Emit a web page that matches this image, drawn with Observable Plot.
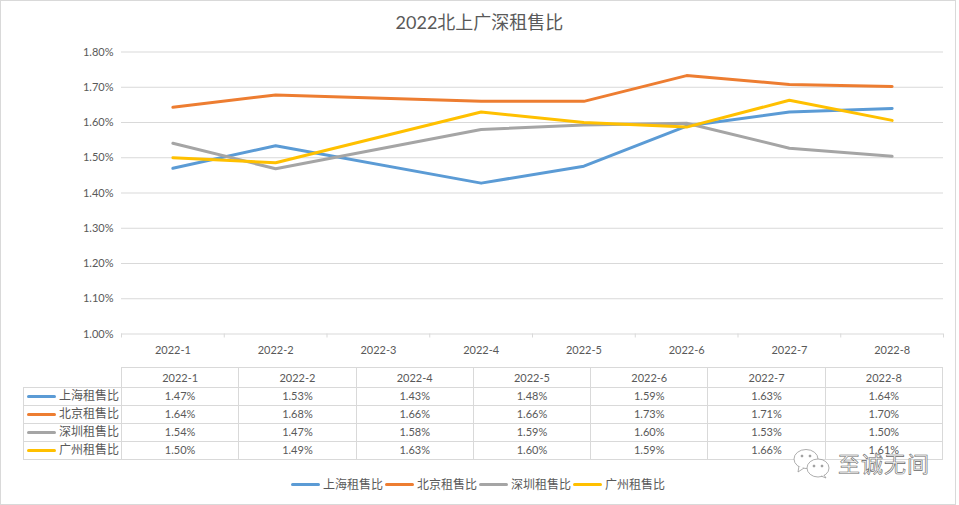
<!DOCTYPE html>
<html><head><meta charset="utf-8">
<script src="https://cdn.jsdelivr.net/npm/d3@7"></script>
<script src="https://cdn.jsdelivr.net/npm/@observablehq/plot@0.6"></script>
<style>
html,body{margin:0;padding:0;background:#fff;overflow:hidden;width:959px;height:505px}
body{font-family:Lato,"Noto Sans CJK SC",sans-serif;color:#595959;position:relative}
#frame{position:absolute;left:0;top:0;box-sizing:border-box;width:956px;height:505px;border:1.5px solid #d9d9d9}
#inner{position:absolute;left:0;top:0;width:959px;height:505px}
#title{height:40px;line-height:44px;text-align:center;font-size:18px;color:#595959;font-family:Lato,"Noto Sans CJK SC",sans-serif}
#chart svg{display:block}
table{border-collapse:collapse;table-layout:fixed;margin:7px 0 0 23px;font-size:11px;width:920px}
td{border:1px solid #d9d9d9;text-align:center;height:16.9px;padding:0;line-height:14px}
tr.h td{height:19px}
td.blank{border:none;border-bottom:1px solid #d9d9d9}
td.lab{font-size:12px;text-align:left;white-space:nowrap;padding-left:3px;box-sizing:border-box}
.key{display:inline-block;width:29px;height:3px;border-radius:2px;vertical-align:middle;margin-right:3px;position:relative;top:-1px}
#legend{position:absolute;left:0;width:956px;top:476px;display:flex;justify-content:center;font-size:12px;line-height:18px}
#legend span.item{margin:0 1px;white-space:nowrap}
#mark{position:absolute;left:793px;top:449px;display:flex;align-items:center;color:#fff;-webkit-text-stroke:0.6px #666;font-size:22px;line-height:26px;letter-spacing:1px}
#mark svg{margin-right:7px;-webkit-text-stroke:0}
</style></head><body>
<div id="inner">
<div id="title"></div><div id="chart"></div><div id="tbl"></div><div id="legend"></div>
</div>
<div id="frame"></div>
<div id="mark"><svg width="38" height="30" viewBox="0 0 38 30" fill="#fff" stroke="#999" stroke-width="0.8"><ellipse cx="13" cy="10" rx="12" ry="9.5"/><path d="M6 17 L5 23 L11 19"/><ellipse cx="25" cy="19" rx="11" ry="9"/><path d="M31 26 L33 29 L28 27"/><circle cx="9" cy="7" r="1" fill="#999"/><circle cx="17" cy="7" r="1" fill="#999"/><circle cx="21" cy="17" r="1" fill="#999"/><circle cx="29" cy="17" r="1" fill="#999"/></svg><span>至诚无间</span></div>
<script>
const title = "2022北上广深租售比";
const axisMonths = ["2022-1","2022-2","2022-3","2022-4","2022-5","2022-6","2022-7","2022-8"];
const tableMonths = ["2022-1","2022-2","2022-4","2022-5","2022-6","2022-7","2022-8"];
const seriesNames = ["上海租售比","北京租售比","深圳租售比","广州租售比"];
const colors = ["#5b9bd5","#ed7d31","#a5a5a5","#ffc000"];
const shanghai = [1.47,1.534,1.428,1.476,1.59,1.63,1.64];
const beijing = [1.643,1.678,1.66,1.66,1.733,1.708,1.702];
const shenzhen = [1.541,1.469,1.58,1.593,1.598,1.527,1.504];
const guangzhou = [1.50,1.486,1.63,1.60,1.587,1.663,1.606];
const yTicks = [1.0,1.1,1.2,1.3,1.4,1.5,1.6,1.7,1.8];
const allSeries = [shanghai,beijing,shenzhen,guangzhou];

const rows = allSeries.flatMap((vals,s)=>vals.map((v,i)=>({
  series: seriesNames[s], month: tableMonths[i], x: axisMonths.indexOf(tableMonths[i])+0.5, v
})));
const edges = d3.range(axisMonths.length+1);
const centers = axisMonths.map((_,i)=>i+0.5);

document.getElementById("title").textContent = title;

const plot = Plot.plot({
  width: 959, height: 320,
  marginLeft: 121, marginRight: 16, marginTop: 11.5, marginBottom: 26.5,
  style: {fontFamily: 'Lato,"Noto Sans CJK SC",sans-serif', fontSize: "11px", color: "#595959", background: "transparent"},
  x: {domain: [0, axisMonths.length], label: null},
  y: {domain: [1.0, 1.8], label: null},
  color: {domain: seriesNames, range: colors},
  marks: [
    Plot.ruleY(yTicks, {stroke: "#d9d9d9", strokeWidth: 1}),
    Plot.axisY({ticks: yTicks, tickFormat: d=>d.toFixed(2)+"%", tickSize: 0, tickPadding: 8, label: null, fill: "#595959"}),
    Plot.axisX({ticks: edges, tickFormat: ()=>"", tickSize: 4, stroke: "#d9d9d9", label: null}),
    Plot.axisX({ticks: centers, tickFormat: d=>axisMonths[d-0.5], tickSize: 0, tickPadding: 12, label: null, fill: "#595959"}),
    Plot.line(rows, {x: "x", y: "v", z: "series", stroke: "series", strokeWidth: 3, curve: "linear", strokeLinejoin: "round", strokeLinecap: "round"})
  ]
});
document.getElementById("chart").append(plot);

const key = i => `<span class="key" style="background:${colors[i]}"></span>`;
const fmt = v => v.toFixed(2)+"%";
let html = `<table><colgroup><col style="width:98px">${tableMonths.map(()=>'<col>').join("")}</colgroup>`;
html += `<tr class="h"><td class="blank"></td>${tableMonths.map(m=>`<td>${m}</td>`).join("")}</tr>`;
seriesNames.forEach((n,s)=>{
  html += `<tr><td class="lab">${key(s)}${n}</td>${allSeries[s].map(v=>`<td>${fmt(v)}</td>`).join("")}</tr>`;
});
html += "</table>";
document.getElementById("tbl").innerHTML = html;
document.getElementById("legend").innerHTML = seriesNames.map((n,i)=>`<span class="item">${key(i)}${n}</span>`).join("");
</script>
</body></html>
